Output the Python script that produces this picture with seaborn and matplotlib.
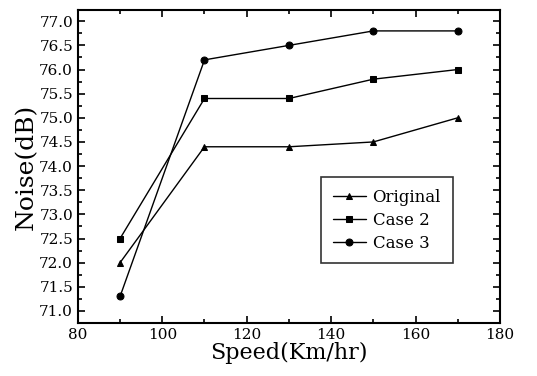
import matplotlib
matplotlib.use('Agg')
import matplotlib.pyplot as plt
import seaborn as sns
import pandas as pd
from matplotlib.ticker import MultipleLocator

velocidad = [90, 110, 130, 150, 170]
original = [72.0, 74.4, 74.4, 74.5, 75.0]
caso2 = [72.5, 75.4, 75.4, 75.8, 76.0]
caso3 = [71.3, 76.2, 76.5, 76.8, 76.8]
series = ['Original', 'Case 2', 'Case 3']
marcadores = ['^', 's', 'o']

sns.set_style('ticks')
plt.rcParams['font.family'] = ['DejaVu Serif']
plt.rcParams['mathtext.fontset'] = 'dejavuserif'
plt.rcParams['text.color'] = 'black'
plt.rcParams['xtick.color'] = 'black'
plt.rcParams['ytick.color'] = 'black'
plt.rcParams['axes.labelcolor'] = 'black'

df = pd.DataFrame({
    'speed': velocidad * 3,
    'noise': original + caso2 + caso3,
    'serie': [s for s in series for _ in velocidad],
})

fig = plt.figure(figsize=(5.37, 3.76), dpi=100)
ax = fig.add_axes([0.145, 0.141, 0.786, 0.832])

sns.lineplot(data=df, x='speed', y='noise', hue='serie', style='serie',
             markers=dict(zip(series, marcadores)), dashes=False,
             palette=['black'] * 3, linewidth=1.0, markersize=5,
             markeredgecolor='black', ax=ax)

ax.set_xlim(80, 180)
ax.set_ylim(70.75, 77.23)
ax.xaxis.set_major_locator(MultipleLocator(20))
ax.xaxis.set_minor_locator(MultipleLocator(10))
ax.yaxis.set_major_locator(MultipleLocator(0.5))
ax.yaxis.set_minor_locator(MultipleLocator(0.25))
ax.yaxis.set_major_formatter(matplotlib.ticker.FormatStrFormatter('%.1f'))
ax.tick_params(which='both', direction='in', top=True, right=True,
               labelsize=11, width=1.2)
ax.tick_params(which='major', length=5)
ax.tick_params(which='minor', length=3)
for s in ax.spines.values():
    s.set_linewidth(1.5)
    s.set_color('black')

ax.set_xlabel('Speed(Km/hr)', fontsize=16, labelpad=0)
ax.set_ylabel('Noise(dB)', fontsize=18, labelpad=1)

leg = ax.legend(title=None, loc='upper left', bbox_to_anchor=(0.556, 0.492),
                fontsize=12, frameon=True, fancybox=False, edgecolor='black',
                handlelength=2.0, handletextpad=0.4, borderpad=0.7,
                labelspacing=0.35)
leg.get_frame().set_linewidth(1.2)

fig.savefig('out.png', dpi=100)
